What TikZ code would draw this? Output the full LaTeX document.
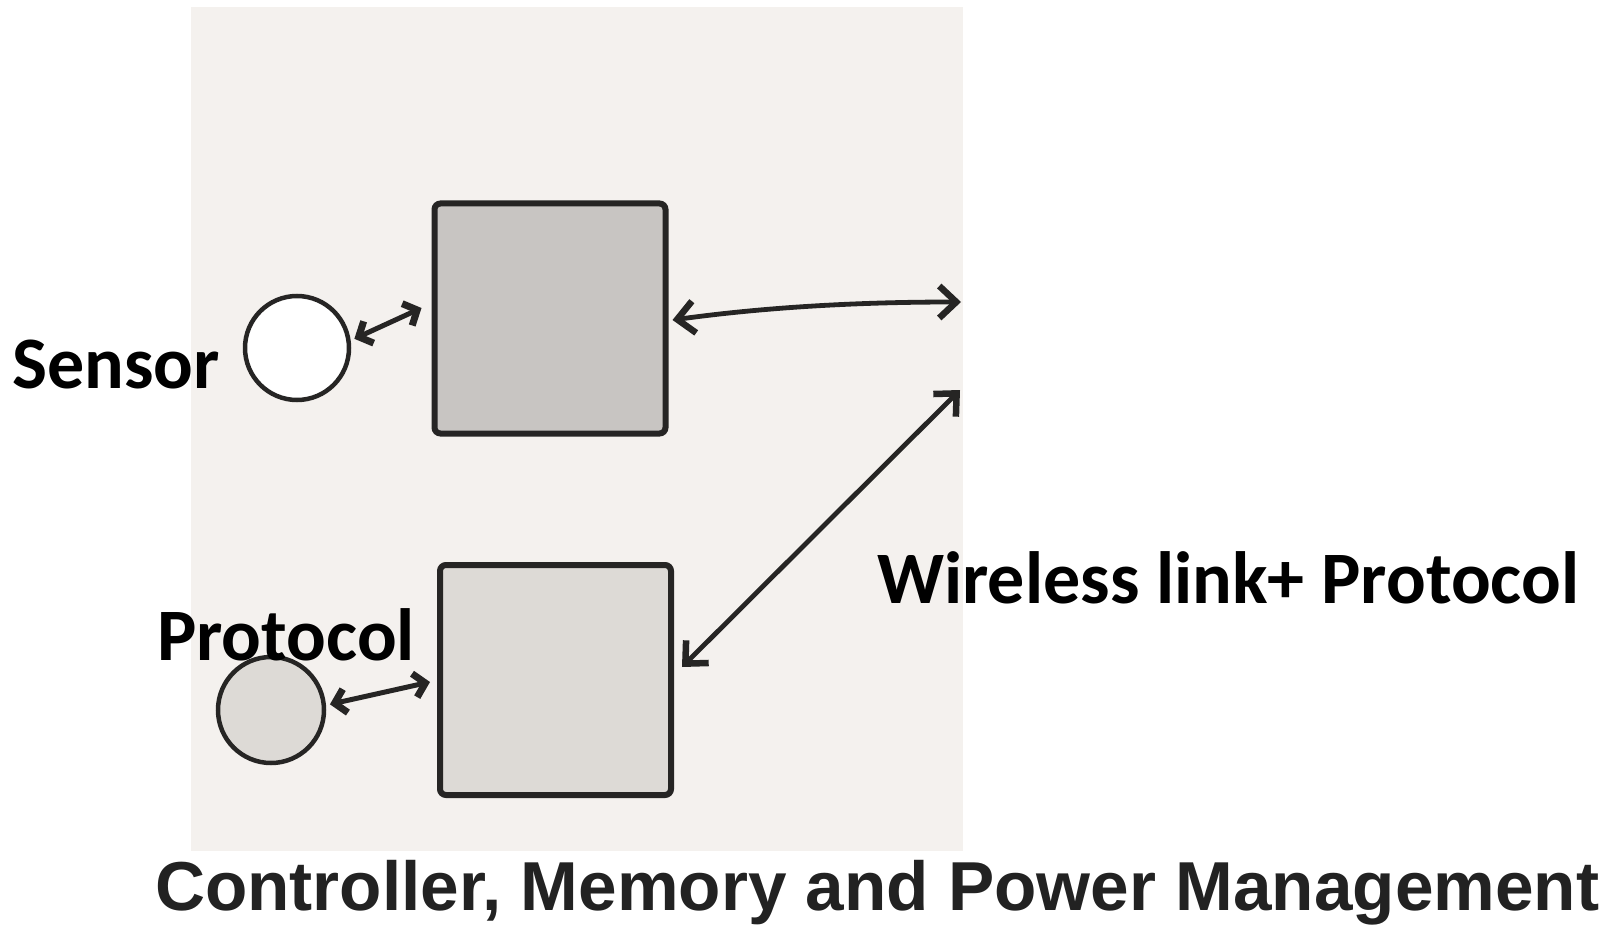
\documentclass[tikz,border=0pt]{standalone}
\usepackage{fontspec}
\newfontfamily\labelfont{Carlito}
\newfontfamily\captionfont{Liberation Sans}
\usetikzlibrary{arrows.meta}

\definecolor{paper}{HTML}{F4F1EE}
\definecolor{ink}{HTML}{262524}
\definecolor{boxdark}{HTML}{C8C5C2}
\definecolor{boxlight}{HTML}{DDDAD6}
\definecolor{captionink}{HTML}{222222}

\tikzset{
  unitbox/.style={draw=ink, line width=6pt, rounded corners=6pt, inner sep=0pt},
  part/.style={circle, draw=ink, line width=4.5pt, inner sep=0pt, minimum size=104pt},
  smallbarb/.tip={Straight Barb[length=11pt,width=24pt,line width'=7pt]},
  bigbarb/.tip={Straight Barb[length=17pt,width=32pt,line width'=6.5pt]},
  link/.style={draw=ink, line width=5pt, line cap=round, smallbarb-smallbarb},
  radio/.style={draw=ink, line width=4.8pt, line cap=round, bigbarb-bigbarb},
  tag/.style={inner sep=0pt, anchor=base west, text=black,
    font=\labelfont\bfseries\fontsize{74}{84}\selectfont},
  caption/.style={inner sep=0pt, anchor=base west, text=captionink,
    font=\captionfont\bfseries\fontsize{69.3}{80}\selectfont}
}

\begin{document}
\begin{tikzpicture}[x=1pt, y=-1pt]
  \useasboundingbox (0,0) rectangle (1622,925);

  % sketch panel
  \fill[paper] (191,7) rectangle (963,851);

  % controller / memory unit and its sensor
  \node[unitbox, fill=boxdark, minimum width=231pt, minimum height=230pt] (ctrl) at (550,318.5) {};
  \node[part, fill=white] (sensor) at (297,348) {};

  % protocol unit and its part
  \node[unitbox, fill=boxlight, minimum width=231pt, minimum height=230pt] (proto) at (555.5,680) {};
  \node[part, fill=boxlight, minimum size=106pt] (protopart) at (271,710) {};

  % free ends of the wireless link at the panel edge
  \coordinate (airA) at (961,302);
  \coordinate (airB) at (960,390);

  % connectors
  \draw[link, shorten <=4pt] (sensor.8) -- ([xshift=-10pt,yshift=10.5pt]ctrl.west);
  \draw[link, shorten <=4pt] (protopart.5) -- ([xshift=-7pt,yshift=-2pt]proto.west);
  \draw[radio] ([xshift=4pt,yshift=-1.5pt]ctrl.east) .. controls (760,308) and (850,302) .. (airA);
  \draw[radio] (airB) -- ([xshift=8pt,yshift=13pt]proto.east);

  % labels
  \node[tag] (lsensor) at (12,388) {Sensor};
  \node[tag] (lproto) at (157,660) {Protocol};
  \node[tag] (lwireless) at (877,603) {Wireless link+ Protocol};
  \node[caption] (lcaption) at (155,910) {Controller, Memory and Power Management};
\end{tikzpicture}
\end{document}
